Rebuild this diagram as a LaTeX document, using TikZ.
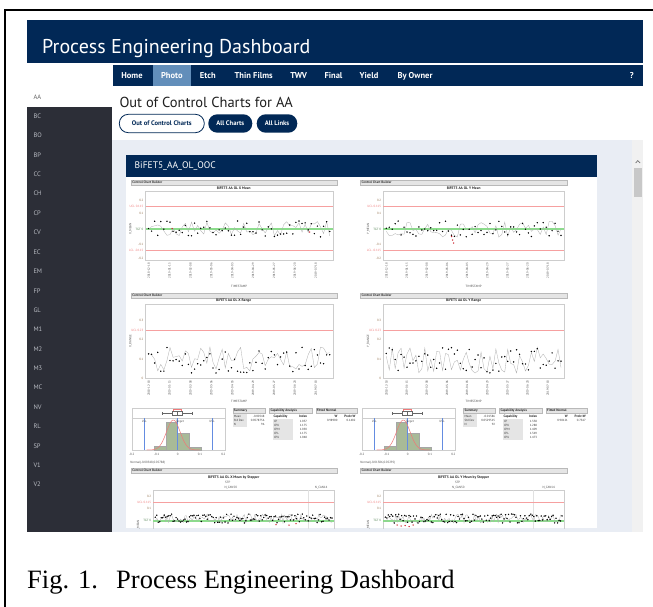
\documentclass[tikz,border=0pt]{standalone}
\usepackage{fontspec}
\setmainfont{PT Sans}
\newfontfamily\capfont{Liberation Serif}
\newcommand\setfs[1]{\fontsize{#1}{#1}\selectfont}

\definecolor{navy}{RGB}{1,40,86}
\definecolor{tabblue}{RGB}{98,142,186}
\definecolor{sidebg}{RGB}{44,46,55}
\definecolor{sidetxt}{RGB}{185,188,195}
\definecolor{mainbg}{RGB}{233,237,244}
\definecolor{trackbg}{RGB}{241,241,241}
\definecolor{thumbc}{RGB}{200,200,200}
\definecolor{ccbfill}{RGB}{229,229,229}
\definecolor{ccbline}{RGB}{185,185,185}
\definecolor{framec}{RGB}{205,205,205}
\definecolor{uclred}{RGB}{240,120,120}
\definecolor{ucllight}{RGB}{246,160,160}
\definecolor{tgtgreen}{RGB}{140,220,140}
\definecolor{tickc}{RGB}{150,115,80}
\definecolor{specblue}{RGB}{100,140,225}
\definecolor{histc}{RGB}{168,186,152}
\definecolor{ptred}{RGB}{205,30,40}

\tikzset{
  navtxt/.style={text=white, font=\bfseries\setfs{8.5}, inner sep=0, anchor=base},
  sidelbl/.style={text=sidetxt, font=\setfs{6.5}, inner sep=0, anchor=west},
  pillout/.style={draw=navy, line width=0.8pt, fill=white, rounded corners=9pt, text=navy,
    font=\bfseries\setfs{6.6}, minimum height=18.4pt, inner sep=0},
  pillfill/.style={fill=navy, rounded corners=9pt, text=white,
    font=\bfseries\setfs{6.6}, minimum height=18.4pt, inner sep=0},
  ccb/.style={fill=ccbfill, draw=ccbline, line width=0.3pt},
  ccbtxt/.style={font=\bfseries\setfs{3.3}, inner sep=0, anchor=west, text=black!80},
  ctitle/.style={font=\bfseries\setfs{3.6}, inner sep=0, text=black!85},
  tick/.style={font=\setfs{3.1}, inner sep=0, anchor=east, text=tickc},
  ucltxt/.style={tick, text=uclred},
  tgttxt/.style={tick, text=tgtgreen!60!black},
  axtxt/.style={font=\setfs{3.1}, inner sep=0, text=black!70},
  datetxt/.style={font=\setfs{3}, inner sep=0, anchor=east, rotate=90, text=black!70},
  ylab/.style={font=\setfs{3.1}, inner sep=0, rotate=90, text=black!70},
  frm/.style={draw=framec, line width=0.4pt},
  ucl/.style={draw=ucllight, line width=0.45pt},
  tgt/.style={draw=tgtgreen, line width=1.6pt},
  series/.style={draw=black!32, line width=0.3pt, mark=*, mark size=0.62pt,
    mark options={fill=black, draw=black, line width=0.1pt}},
  redpt/.style={fill=ptred},
  hbar/.style={fill=histc, draw=black!35, line width=0.25pt},
  spec/.style={draw=specblue, line width=0.5pt},
  normc/.style={draw=uclred, line width=0.5pt},
  boxp/.style={draw=black!60, line width=0.3pt},
  tabhead/.style={fill=ccbfill, draw=ccbline, line width=0.25pt},
  tabtxt/.style={font=\setfs{3}, inner sep=0, text=black!80},
  tabbold/.style={font=\bfseries\setfs{3.3}, inner sep=0, text=black!85},
}

% "Control Chart Builder" strip: left, right, top
\newcommand\ccbar[3]{%
  \draw[ccb] (#1,#3) rectangle (#2,#3+5);
  \node[ccbtxt] at (#1+1.5,#3+2.5) {Control Chart Builder};}

% rotated timestamp labels under a chart: frame left, frame right, top
\newcommand\datelabels[3]{%
  \foreach \d [count=\i from 0] in {2018-12-18,2019-01-15,2019-02-08,2019-03-06,2019-04-03,2019-04-29,2019-05-27,2019-06-20,2019-07-18}
    \node[datetxt] at ({#1+3.3+\i*0.1115*(#2-#1)},#3) {\d};}

% mean chart: bar L, bar R, frame L, frame R, title, y label, seed
\newcommand\meanchart[7]{%
  \ccbar{#1}{#2}{180}
  \node[ctitle] at ({(#1+#2)/2},188.3) {#5};
  \draw[frm] (#3,190.7) rectangle (#4,260);
  \draw[ucl] (#3,206.7) -- (#4,206.7);
  \draw[ucl] (#3,250.7) -- (#4,250.7);
  \draw[tgt] (#3,229) -- (#4,229);
  \node[tick] at (#3-2,200) {0.2};
  \node[ucltxt] at (#3-2,206.7) {UCL 0.115};
  \node[tick] at (#3-2,213.3) {0.1};
  \node[tgttxt] at (#3-2,229) {TGT 0};
  \node[tick] at (#3-2,244) {-0.1};
  \node[ucltxt] at (#3-2,250.7) {LCL -0.115};
  \node[tick] at (#3-2,258.3) {-0.2};
  \node[ylab] at (#3-15,229) {#6};
  \pgfmathsetseed{#7}
  \pgfmathsetmacro\pa{#3+3}\pgfmathsetmacro\pb{#4-3}
  \draw[series] plot[domain=\pa:\pb, samples=60] (\x,{229+8*rand});
  \datelabels{#3}{#4}{263}
  \node[axtxt] at ({(#3+#4)/2},286.5) {TIMESTAMP};}

% range chart: bar L, bar R, frame L, frame R, title, y label, seed
\newcommand\rangechart[7]{%
  \ccbar{#1}{#2}{292.7}
  \node[ctitle] at ({(#1+#2)/2},301) {#5};
  \draw[frm] (#3,304) rectangle (#4,378.3);
  \draw[ucl] (#3,330) -- (#4,330);
  \node[tick] at (#3-2,320) {0.3};
  \node[ucltxt] at (#3-2,330) {UCL 0.23};
  \node[tick] at (#3-2,339.3) {0.2};
  \node[tick] at (#3-2,359.3) {0.1};
  \node[tick] at (#3-2,378.3) {0};
  \node[ylab] at (#3-15,341) {#6};
  \pgfmathsetseed{#7}
  \pgfmathsetmacro\pa{#3+3}\pgfmathsetmacro\pb{#4-3}
  \draw[series] plot[domain=\pa:\pb, samples=60] (\x,{360+13*rand});
  \datelabels{#3}{#4}{380.5}
  \node[axtxt] at ({(#3+#4)/2},401.7) {TIMESTAMP};}

% distribution block: frame left, fitted normal text
\newcommand\histblock[2]{%
  \draw[frm] (#1,408.3) rectangle (#1+93.5,450);
  \draw[frm] (#1,418.3) -- (#1+93.5,418.3);
  \filldraw[hbar] (#1+22.5,450) rectangle (#1+34.2,446.5);
  \filldraw[hbar] (#1+34.2,450) rectangle (#1+45.9,421.7);
  \filldraw[hbar] (#1+45.9,450) rectangle (#1+57.6,433);
  \filldraw[hbar] (#1+57.6,450) rectangle (#1+69.3,447.3);
  \draw[spec] (#1+12.5,418.3) -- (#1+12.5,450);
  \draw[spec] (#1+46,418.3) -- (#1+46,450);
  \draw[spec] (#1+80.3,418.3) -- (#1+80.3,450);
  \node[axtxt] at (#1+12.5,421.7) {LSL};
  \node[axtxt] at (#1+48,421.7) {Target};
  \node[axtxt] at (#1+80.3,421.7) {USL};
  \pgfmathsetmacro\pa{#1+15}\pgfmathsetmacro\pb{#1+68}\pgfmathsetmacro\pc{#1+41.6}
  \draw[normc] plot[domain=\pa:\pb, samples=50, smooth] (\x,{450-30*exp(-0.5*((\x-\pc)/6.8)^2)});
  \draw[boxp] (#1+30,413.3) -- (#1+40,413.3) (#1+50,413.3) -- (#1+60,413.3)
    (#1+30,411.8) -- (#1+30,414.8) (#1+60,411.8) -- (#1+60,414.8);
  \draw[boxp] (#1+40,411.2) rectangle (#1+50,415.4);
  \draw[boxp] (#1+45,411.2) -- (#1+45,415.4);
  \draw[draw=uclred, line width=0.3pt] (#1+41,410.6) -- (#1+41,409.5) -- (#1+49,409.5) -- (#1+49,410.6);
  \foreach \v/\dx in {-0.2/0,-0.1/25,0/46,0.1/68.3,0.2/91.6}
    \node[axtxt] at (#1+\dx,454) {\v};
  \node[axtxt, anchor=west] at (#1-1.5,462.7) {#2};}

% summary table: left, mean, std dev, n
\newcommand\summarytab[4]{%
  \draw[tabhead] (#1,408.3) rectangle (#1+32.3,413);
  \node[tabbold, anchor=west] at (#1+1,410.65) {Summary};
  \fill[black!10] (#1,414) rectangle (#1+14,427);
  \node[tabtxt, anchor=west] at (#1+1,416.5) {Mean};
  \node[tabtxt, anchor=west] at (#1+1,420.6) {Std Dev};
  \node[tabtxt, anchor=west] at (#1+1,424.7) {N};
  \node[tabtxt, anchor=east] at (#1+32,416.5) {#2};
  \node[tabtxt, anchor=east] at (#1+32,420.6) {#3};
  \node[tabtxt, anchor=east] at (#1+32,424.7) {#4};}

% capability table: left, cp, cpk, cpm, cpl, cpu
\newcommand\captab[6]{%
  \draw[tabhead] (#1,408.3) rectangle (#1+42.4,413);
  \node[tabbold, anchor=west] at (#1+1,410.65) {Capability Analysis};
  \node[tabbold, anchor=west] at (#1+4,416.5) {Capability};
  \node[tabbold, anchor=east] at (#1+38,416.5) {Index};
  \fill[black!10] (#1+3.5,418.6) rectangle (#1+24,439.5);
  \foreach \n/\v [count=\k from 0] in {CP/#2,CPK/#3,CPM/#4,CPL/#5,CPU/#6}{
    \node[tabtxt, anchor=west] at (#1+4.5,421+4*\k) {\n};
    \node[tabtxt, anchor=east] at (#1+38,421+4*\k) {\v};}}

% fitted normal table: left, W, Prob<W
\newcommand\fittab[3]{%
  \draw[tabhead] (#1,408.3) rectangle (#1+41,413);
  \node[tabbold, anchor=west] at (#1+1,410.65) {Fitted Normal};
  \node[tabbold, anchor=east] at (#1+22,416.5) {W};
  \node[tabbold, anchor=east] at (#1+40,416.5) {Prob<W};
  \node[tabtxt, anchor=east] at (#1+22,420.6) {#2};
  \node[tabtxt, anchor=east] at (#1+40,420.6) {#3};}

% stepper chart: bar L, bar R, frame L, frame R, divider, title, y label, seed
\newcommand\stepchart[8]{%
  \ccbar{#1}{#2}{467.7}
  \node[ctitle] at ({(#1+#2)/2},477.5) {#6};
  \node[axtxt] at ({(#1+#2)/2-6},482.5) {STP};
  \node[axtxt] at ({(#3+#5)/2},487.3) {N\_CAN50};
  \node[axtxt] at ({(#5+#4)/2},487.3) {N\_CAN14};
  \draw[frm] (#3,535) -- (#3,490) -- (#4,490) -- (#4,535);
  \draw[draw=framec!60, line width=0.3pt] (#5,490) -- (#5,535);
  \draw[ucl] (#3,502.7) -- (#4,502.7);
  \draw[tgt] (#3,520.7) -- (#4,520.7);
  \node[tick] at (#3-2,496.7) {0.2};
  \node[ucltxt] at (#3-2,502.7) {UCL 0.115};
  \node[tick] at (#3-2,508.3) {0.1};
  \node[tgttxt] at (#3-2,520.7) {TGT 0};
  \node[ylab] at (#3-15,526) {#7};
  \pgfmathsetseed{#8}
  \pgfmathsetmacro\pa{#3+2}\pgfmathsetmacro\pb{#4-2}
  \draw[series] plot[domain=\pa:\pb, samples=120] (\x,{518.5+4.5*rand});}

\begin{document}
\begin{tikzpicture}[x=1pt,y=-1pt]
\useasboundingbox (0,0) rectangle (653,607);
\fill[white] (0,0) rectangle (653,607);

% outer figure frame
\draw[line width=1.8pt] (5.3,610) -- (5.3,10.2) -- (656,10.2);

% page header
\fill[navy] (26.7,20) rectangle (642.7,62.7);
\node[anchor=base west, text=white, font=\setfs{20}, inner sep=0] (apptitle) at (42,54) {Process Engineering Dashboard};

% navigation bar
\fill[navy] (112.7,65) rectangle (642.7,86);
\fill[tabblue] (152.7,65) rectangle (191,86);
\node[navtxt] (navhome) at (132,79) {Home};
\node[navtxt] (navphoto) at (171.8,79) {Photo};
\node[navtxt] (navetch) at (207.8,79) {Etch};
\node[navtxt] (navtf) at (253.7,79) {Thin Films};
\node[navtxt] (navtwv) at (298.7,79) {TWV};
\node[navtxt] (navfinal) at (333.5,79) {Final};
\node[navtxt] (navyield) at (369,79) {Yield};
\node[navtxt] (navowner) at (415,79) {By Owner};
\node[navtxt] (navhelp) at (631.7,79) {?};

% module sidebar
\node[sidelbl, text=black!60] (sideAA) at (33.3,96.7) {AA};
\fill[sidebg] (26.7,106.7) rectangle (112.3,531.7);
\foreach \s [count=\i] in {BC,BO,BP,CC,CH,CP,CV,EC,EM,FP,GL,M1,M2,M3,MC,NV,RL,SP,V1,V2}
  \node[sidelbl] (side\s) at (33.3,96.7+19.4*\i) {\s};

% page title and buttons
\node[anchor=base west, font=\setfs{14.5}, text=black!88, inner sep=0] (pagetitle) at (119.3,107.7) {Out of Control Charts for AA};
\node[pillout, minimum width=85pt] (btnooc) at (161.8,123.5) {Out of Control Charts};
\node[pillfill, minimum width=44pt] (btnall) at (230.3,123.5) {All Charts};
\node[pillfill, minimum width=40.6pt] (btnlinks) at (277,123.5) {All Links};

% content area and scrollbar
\fill[mainbg] (112.3,140) rectangle (642.7,531.7);
\fill[trackbg] (632,140) rectangle (642.7,531.7);
\fill[thumbc] (634,168.3) rectangle (641.5,196.7);
\draw[black!55, line width=0.7pt] (635.6,163) -- (637.8,160.6) -- (640,163);

% report panel
\fill[navy] (126,155) rectangle (596.7,177.3);
\node[anchor=west, text=white, font=\setfs{9.5}, inner sep=0] (panelhead) at (134.5,166.5) {BiFET5\_AA\_OL\_OOC};
\fill[white] (126,177.3) rectangle (596.7,528);

\begin{scope}
\clip (126,177.3) rectangle (596.7,528);
% X column
\meanchart{130.7}{336.7}{145.5}{332.7}{BiFET5 AA OL X Mean}{X\_MEAN}{11}
\rangechart{130.7}{336.7}{145.5}{332.7}{BiFET5 AA OL X Range}{X\_RANGE}{23}
\histblock{131.7}{Normal(-0.00548,0.05788)}
\summarytab{232.7}{-0.00548}{0.0578756}{96}
\captab{269.3}{1.037}{1.175}{1.050}{1.175}{1.048}
\fittab{315.7}{0.98900}{0.1402}
\stepchart{130.7}{336.7}{153.3}{334}{308.3}{BiFET5 AA OL X Mean by Stepper}{X\_MEAN}{37}
% Y column
\meanchart{360}{567.3}{383.3}{564}{BiFET5 AA OL Y Mean}{Y\_MEAN}{41}
\rangechart{360}{567.3}{383.3}{564}{BiFET5 AA OL Y Range}{Y\_RANGE}{53}
\histblock{361.7}{Normal(-0.01386,0.05295)}
\summarytab{463.3}{-0.01386}{0.0529515}{92}
\captab{499.3}{1.338}{1.288}{1.409}{1.369}{1.473}
\fittab{546}{0.98121}{0.7567}
\stepchart{360}{567.3}{383.3}{564}{533.3}{BiFET5 AA OL Y Mean by Stepper}{Y\_MEAN}{67}
% out-of-control points
\foreach \p in {(172,228.5),(309.5,232),(451.5,236.5),(452.5,240),(453.5,243),
  (276,524.5),(289,525),(296,523.5),(397,525),(401,526),(405,525.5),(409,526.5),(413,525)}
  \fill[redpt] \p circle[radius=0.75];
\end{scope}

% figure caption
\node[anchor=base west, font=\capfont\setfs{26.5}, inner sep=0] (figlabel) at (27,588.5) {Fig. 1.};
\node[anchor=base west, font=\capfont\setfs{26.5}, inner sep=0] (figcaption) at (116,588.5) {Process Engineering Dashboard};
\end{tikzpicture}
\end{document}
